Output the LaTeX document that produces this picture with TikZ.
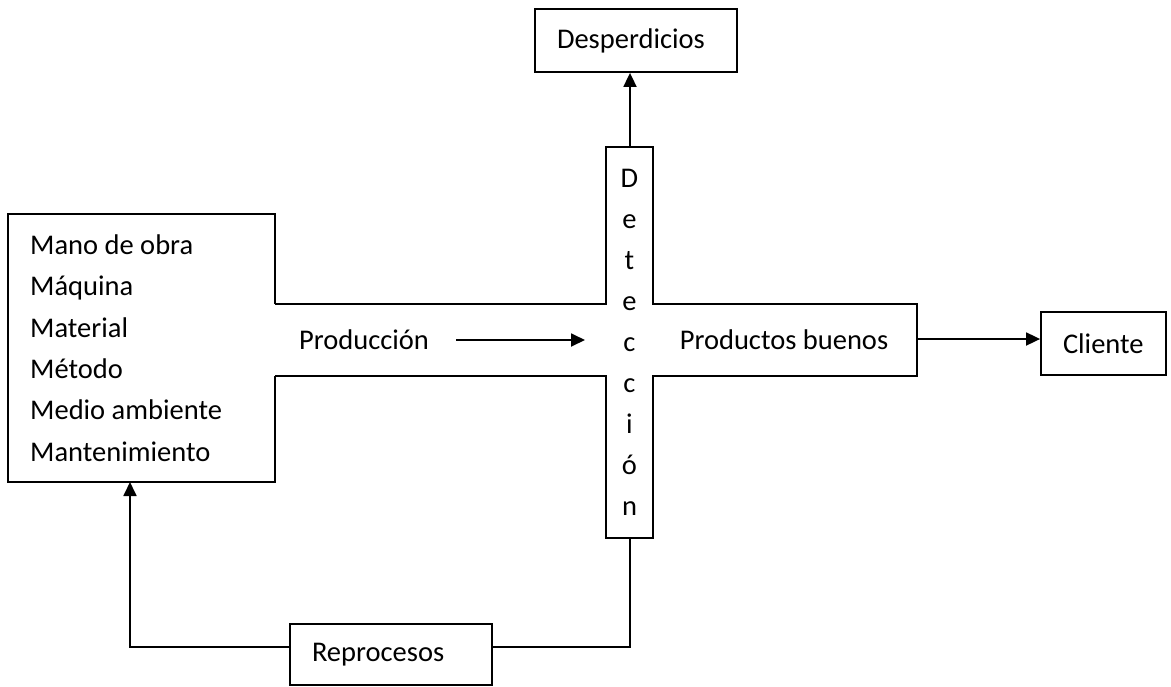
\documentclass[tikz,border=0pt]{standalone}
\usepackage{fontspec}
\setmainfont{Carlito}
\usetikzlibrary{arrows.meta}
\begin{document}
\begin{tikzpicture}[x=1pt,y=-1pt,
  line/.style={line width=1.8pt, line join=miter},
  arr/.style={line width=1.8pt, -{Triangle[length=14pt,width=13pt]}},
  txt/.style={inner sep=0pt, font=\fontsize{28.5}{34}\selectfont},
  box/.style={draw, line width=1.8pt, inner xsep=22pt, inner ysep=0pt,
              align=left, font=\fontsize{28.5}{34}\selectfont}
]
\useasboundingbox (0,0) rectangle (1171,686);
\fill[white] (0,0) rectangle (1171,686);

% named corner points of the process outline
\coordinate (lbTR) at (275,304);
\coordinate (lbBR) at (275,376);
\coordinate (stTL) at (606,147);
\coordinate (stTR) at (653,147);
\coordinate (stBL) at (606,538);
\coordinate (stBR) at (653,538);
\coordinate (stTop) at (630,147);
\coordinate (stBot) at (630,538);
\coordinate (pbR) at (917,339);
\coordinate (lbBot) at (130,482);

% inputs box, opened on the right into the production channel
\draw[line] (lbTR) -- (275,214) -- (8,214) -- (8,482) -- (275,482) -- (lbBR);
\draw[line] (lbTR) -- (stTL |- lbTR) -- (stTL) -- (stTR) -- (stTR |- lbTR)
            -- (917,304) -- (917,376) -- (stBR |- lbBR) -- (stBR) -- (stBL)
            -- (stBL |- lbBR) -- (lbBR);

% texts
\node[txt, anchor=west, align=left, font=\fontsize{28.5}{41.4}\selectfont] (factors) at (30,348)
  {Mano de obra\\Máquina\\Material\\Método\\Medio ambiente\\Mantenimiento};
\node[txt] (prod) at (364,340) {Producción};
\node[txt] (good) at (784,340) {Productos buenos};
\node[txt, align=center, font=\fontsize{28.5}{41}\selectfont] (detect) at (629.5,342)
  {D\\e\\t\\e\\c\\c\\i\\ó\\n};

% outlet boxes
\node[box, text width=158pt, minimum height=63pt] (desp) at (636,40.5) {Desperdicios};
\node[box, text width=81pt, minimum height=63pt] (client) at (1103.5,343.5) {Cliente};
\node[box, text width=158pt, minimum height=61pt] (repro) at (391,654.5) {Reprocesos};

% connectors
\draw[arr] (stTop) -- (stTop |- desp.south);
\draw[arr] ([xshift=27pt]prod.east) -- ([xshift=-21pt]stTL |- prod.east);
\draw[arr] (pbR) -- (pbR -| client.west);
\draw[line] (stBot) |- ([yshift=7.5pt]repro.east);
\draw[arr] ([yshift=7.5pt]repro.west) -| (lbBot);
\end{tikzpicture}
\end{document}
